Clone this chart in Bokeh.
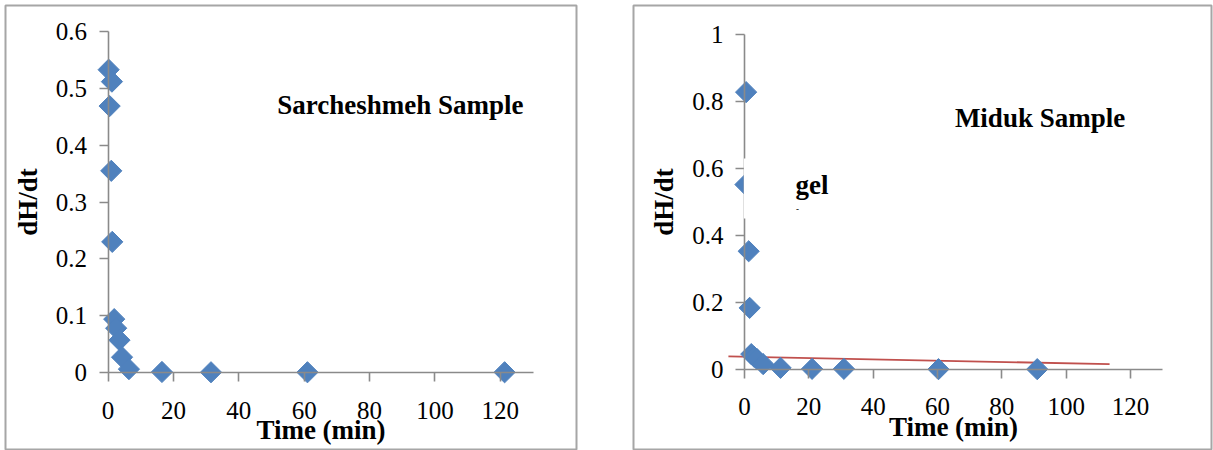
import math
from bokeh.plotting import figure
from bokeh.layouts import row
from bokeh.models import Range1d, FixedTicker, Label, BoxAnnotation
from bokeh.embed import file_html
from bokeh.resources import INLINE

# ---------------- data ----------------
sar_time = [0.2, 1.2, 0.5, 1.0, 1.3, 1.9, 2.5, 3.5, 4.3, 6.4, 16.5, 31.5, 61.0, 121.3]
sar_dhdt = [0.533, 0.512, 0.469, 0.355, 0.230, 0.094, 0.078, 0.057, 0.027, 0.006, 0.001, 0.0005, 0.0005, 0.0005]

mid_time = [0.5, 0.3, 1.3, 1.6, 2.1, 3.0, 3.9, 5.8, 11.2, 21.0, 30.9, 60.3, 91.0]
mid_dhdt = [0.828, 0.552, 0.353, 0.184, 0.046, 0.038, 0.031, 0.016, 0.005, 0.002, 0.002, 0.001, 0.001]

trend_time = [-5.0, 113.5]
trend_dhdt = [0.039, 0.016]

x_ticks = [0, 20, 40, 60, 80, 100, 120]
x_labels = ["0", "20", "40", "60", "80", "100", "120"]
sar_y_ticks = [0, 0.1, 0.2, 0.3, 0.4, 0.5, 0.6]
sar_y_labels = ["0", "0.1", "0.2", "0.3", "0.4", "0.5", "0.6"]
mid_y_ticks = [0, 0.2, 0.4, 0.6, 0.8, 1.0]
mid_y_labels = ["0", "0.2", "0.4", "0.6", "0.8", "1"]

x_title = "Time (min)"
y_title = "dH/dt"
sar_name = "Sarcheshmeh Sample"
mid_name = "Miduk Sample"
mid_note = "gel"

BLUE = "#4F81BD"
AXIS = "#8a8a8a"
SERIF = "Liberation Serif"


def panel(width, height, borders, xr, yr, ybound, yticks, ylabels):
    bl, br, bt, bb = borders
    p = figure(width=width, height=height, output_backend="svg", toolbar_location=None,
               x_range=Range1d(*xr), y_range=Range1d(*yr),
               min_border_left=bl, min_border_right=br, min_border_top=bt, min_border_bottom=bb)
    p.background_fill_color = "white"
    p.border_fill_color = "white"
    p.outline_line_color = "#a6a6a6"
    p.outline_line_width = 2
    p.xgrid.visible = False
    p.ygrid.visible = False
    for ax in (p.xaxis[0], p.yaxis[0]):
        ax.fixed_location = 0
        ax.axis_line_color = AXIS
        ax.axis_line_width = 1.6
        ax.major_tick_line_color = AXIS
        ax.major_tick_line_width = 1.6
        ax.major_tick_out = 9
        ax.major_tick_in = 0
        ax.minor_tick_line_color = None
        ax.major_label_text_font = SERIF
        ax.major_label_text_font_size = "25px"
        ax.major_label_text_color = "black"
        ax.axis_label_text_font = SERIF
        ax.axis_label_text_font_size = "27px"
        ax.axis_label_text_font_style = "bold"
        ax.axis_label_text_color = "black"
    p.xaxis.bounds = (0, 130)
    p.xaxis.ticker = FixedTicker(ticks=x_ticks)
    p.xaxis.major_label_overrides = dict(zip(x_ticks, x_labels))
    p.xaxis.major_label_standoff = 20
    p.xaxis.axis_label = x_title
    p.xaxis.axis_label_standoff = -7
    p.yaxis.bounds = ybound
    p.yaxis.ticker = FixedTicker(ticks=yticks)
    p.yaxis.major_label_overrides = dict(zip(yticks, ylabels))
    p.yaxis.major_label_standoff = 12
    p.yaxis.axis_label = y_title
    p.yaxis.axis_label_standoff = 10
    return p


def note(p, x, y, text, size="27px"):
    p.add_layout(Label(x=x, y=y, text=text, text_font=SERIF, text_font_size=size,
                       text_font_style="bold", text_color="black", text_baseline="middle"))


# Sarcheshmeh panel (canvas 0..578)
p1 = panel(578, 450, (5, 2, 5, 0), (-31.35, 143.29), (-0.1372, 0.6460), (0, 0.6),
           sar_y_ticks, sar_y_labels)
p1.scatter(sar_time, sar_dhdt, marker="square", angle=math.pi / 4, size=15,
           fill_color=BLUE, line_color=BLUE)
note(p1, 51.75, 0.4717, sar_name)

# Miduk panel (canvas 631..1213)
p2 = panel(582, 450, (2, 2, 5, 0), (-34.51, 145.18), (-0.2418, 1.0866), (0, 1.0),
           mid_y_ticks, mid_y_labels)
p2.line(trend_time, trend_dhdt, line_color="#C0504D", line_width=1.8)
p2.scatter(mid_time, mid_dhdt, marker="square", angle=math.pi / 4, size=15,
           fill_color=BLUE, line_color=BLUE)
p2.add_layout(BoxAnnotation(left=-0.2, right=12, bottom=0.451, top=0.63,
                            fill_color="white", fill_alpha=1.0, line_color=None))
note(p2, 65.4, 0.7522, mid_name)
note(p2, 15.85, 0.5516, mid_note)
note(p2, 16.0, 0.4806, "-", size="9px")

layout = row(p1, p2, spacing=53)
open("out.html", "w").write(file_html(layout, INLINE))
